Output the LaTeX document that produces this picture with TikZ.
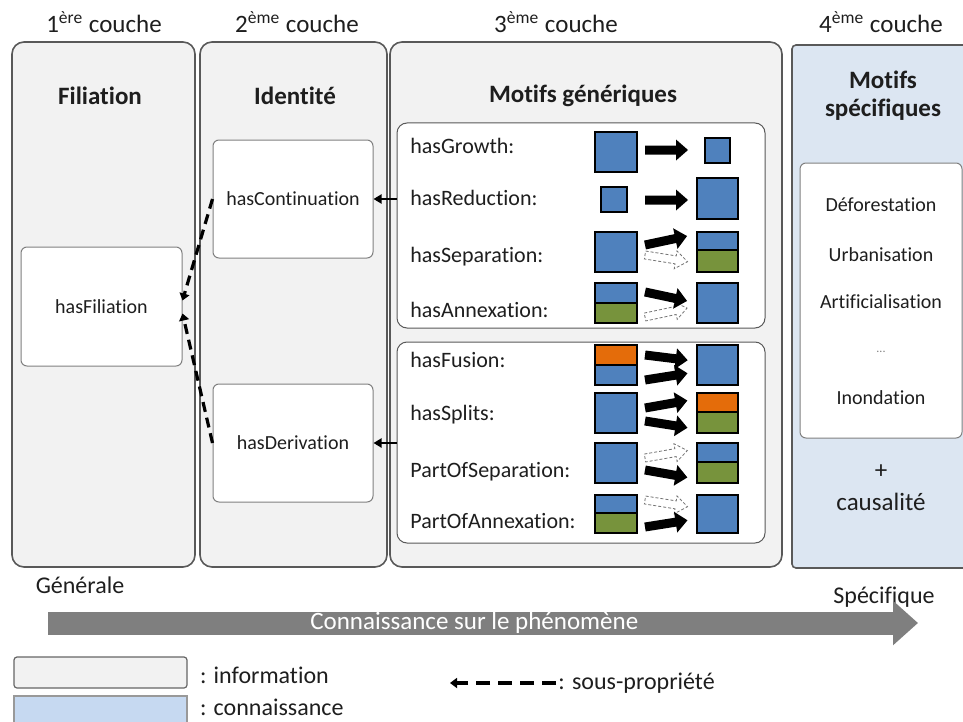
\documentclass[tikz,border=0pt]{standalone}
\usepackage{fontspec}
\setmainfont{Carlito}[Ligatures=NoCommon]
\usetikzlibrary{arrows.meta,fit}
\definecolor{gris}{RGB}{242,242,242}
\definecolor{bleuclair}{RGB}{220,230,242}
\definecolor{bleulegende}{RGB}{198,217,241}
\definecolor{bleu}{RGB}{79,129,189}
\definecolor{vert}{RGB}{119,147,60}
\definecolor{orangef}{RGB}{228,108,10}
\definecolor{grisfleche}{RGB}{127,127,127}
\definecolor{texte}{RGB}{30,30,30}

\tikzset{
  couche/.style={draw=black!65, line width=0.8pt, fill=gris, rounded corners=6pt, inner sep=0pt},
  boite/.style={draw=black!50, line width=0.5pt, fill=white, rounded corners=3pt, inner sep=0pt},
  boitetexte/.style={font=\fontsize{10}{12}\selectfont, text=texte},
  titre/.style={font=\fontsize{12.5}{13}\selectfont\bfseries, align=center, text=texte},
  entete/.style={font=\fontsize{12.5}{15}\selectfont, text=texte},
  motif/.style={anchor=west, inner sep=0pt, text height=1.5ex, text depth=.4ex, font=\fontsize{11}{13}\selectfont, text=texte},
  phenomene/.style={font=\fontsize{10}{12}\selectfont, text=texte},
  carre/.style={draw=black, line width=1.1pt},
  sousprop/.style={line width=1.6pt, dash pattern=on 5pt off 3pt, -{Triangle[length=3.5pt,width=5pt]}},
  lien/.style={line width=1pt, -{Triangle[length=4pt,width=4.5pt]}},
  connaissance/.style={draw=grisfleche, line width=11.5pt, -{Triangle[length=12.5pt,width=21.5pt]}},
  pics/fleche/.style={code={
    \fill[black] (0,-4.5) -- (31,-4.5) -- (31,-10.5) -- (43,0) -- (31,10.5) -- (31,4.5) -- (0,4.5) -- cycle;}},
  pics/flechevide/.style={code={
    \draw[black!55, fill=white, line width=0.4pt, dash pattern=on 1.5pt off 1pt] (0,-4) -- (31,-4) -- (31,-9) -- (43,0) -- (31,9) -- (31,4) -- (0,4) -- cycle;}}
}

\begin{document}
\begin{tikzpicture}[x=0.5pt,y=-0.5pt]
\useasboundingbox (0,0) rectangle (963,722);
\clip (0,0) rectangle (963,722);

% les quatre couches
\node[entete] at (104,22) {1\textsuperscript{ère} couche};
\node[entete] at (297,22) {2\textsuperscript{ème} couche};
\node[entete] at (556,22) {3\textsuperscript{ème} couche};
\node[entete] at (881,22) {4\textsuperscript{ème} couche};

\node[couche, fit={(12,42) (195,567)}] (c1) {};
\node[couche, fit={(200,42) (387,567)}] (c2) {};
\node[couche, fit={(390,42) (782,567)}] (c3) {};
\node[couche, fill=bleuclair, rounded corners=2pt, fit={(792,45) (990,568)}] (c4) {};

\node[titre] at (100,96) {Filiation};
\node[titre] at (295,96) {Identité};
\node[titre] at (583,96) {Motifs génériques};
\node[titre] at (883,96) {Motifs\\[1pt]spécifiques};

% filiation et identite
\node[boite, fit={(21,247) (182,366)}, label={[boitetexte]center:hasFiliation}] (hf) {};
\node[boite, fit={(213,140) (373,258)}, label={[boitetexte]center:hasContinuation}] (hc) {};
\node[boite, fit={(213,384) (373,502)}, label={[boitetexte]center:hasDerivation}] (hd) {};

\draw[sousprop] (hc.west) -- ([yshift=3pt]hf.east);
\draw[sousprop] (hd.west) -- ([yshift=-3.5pt]hf.east);

% motifs generiques
\node[boite, draw=black!65, rounded corners=5pt, fit={(397,123) (765,328)}] (motifsA) {};
\node[boite, draw=black!65, rounded corners=5pt, fit={(397,342) (765,543)}] (motifsB) {};

\draw[lien] (motifsA.west |- hc.east) -- (hc.east);
\draw[lien] (motifsB.west |- hd.east) -- (hd.east);

\node[motif] at (410,148) {hasGrowth:};
\node[motif] at (410,200) {hasReduction:};
\node[motif] at (410,257) {hasSeparation:};
\node[motif] at (410,312) {hasAnnexation:};
\node[motif] at (410,362) {hasFusion:};
\node[motif] at (410,415) {hasSplits:};
\node[motif] at (410,472) {PartOfSeparation:};
\node[motif] at (410,523) {PartOfAnnexation:};

% hasGrowth
\draw[carre, fill=bleu] (595,132) rectangle (637,172);
\pic at (645,150) {fleche};
\draw[carre, fill=bleu] (705,138) rectangle (730,163);
% hasReduction
\draw[carre, fill=bleu] (601,187) rectangle (627,212);
\pic at (645,200) {fleche};
\draw[carre, fill=bleu] (697,178) rectangle (738,219);
% hasSeparation
\draw[carre, fill=bleu] (595,232) rectangle (637,272);
\pic[rotate=-9] at (645,255) {flechevide};
\pic[rotate=12] at (645,245) {fleche};
\draw[carre, fill=bleu] (697,232) rectangle (738,250);
\draw[carre, fill=vert] (697,250) rectangle (738,272);
% hasAnnexation
\draw[carre, fill=bleu] (595,283) rectangle (637,303);
\draw[carre, fill=vert] (595,303) rectangle (637,323);
\pic[rotate=12] at (645,317) {flechevide};
\pic[rotate=-12] at (645,292) {fleche};
\draw[carre, fill=bleu] (697,283) rectangle (738,323);

% hasFusion
\draw[carre, fill=orangef] (595,345) rectangle (637,365);
\draw[carre, fill=bleu] (595,365) rectangle (637,385);
\pic[rotate=-7] at (645,355) {fleche};
\pic[rotate=9] at (645,380) {fleche};
\draw[carre, fill=bleu] (697,345) rectangle (738,385);
% hasSplits
\draw[carre, fill=bleu] (595,393) rectangle (637,433);
\pic[rotate=10] at (645,408) {fleche};
\pic[rotate=-9] at (645,421) {fleche};
\draw[carre, fill=orangef] (697,393) rectangle (738,412);
\draw[carre, fill=vert] (697,412) rectangle (738,433);
% PartOfSeparation
\draw[carre, fill=bleu] (595,443) rectangle (637,483);
\pic[rotate=10] at (645,458) {flechevide};
\pic[rotate=-10] at (645,470) {fleche};
\draw[carre, fill=bleu] (697,443) rectangle (738,462);
\draw[carre, fill=vert] (697,462) rectangle (738,483);
% PartOfAnnexation
\draw[carre, fill=bleu] (595,495) rectangle (637,513);
\draw[carre, fill=vert] (595,513) rectangle (637,533);
\pic[rotate=-9] at (645,500) {flechevide};
\pic[rotate=9] at (645,527) {fleche};
\draw[carre, fill=bleu] (697,495) rectangle (738,533);

% motifs specifiques
\node[boite, fit={(800,163) (962,438)}] (phen) {};
\node[phenomene] at (881,205) {Déforestation};
\node[phenomene] at (881,255) {Urbanisation};
\node[phenomene] at (881,302) {Artificialisation};
\node[phenomene, font=\fontsize{6}{7}\selectfont, text=black!50] at (881,352) {...};
\node[phenomene] at (881,398) {Inondation};
\node[entete] at (881,472) {+};
\node[entete] at (881,502) {causalité};

% axe des connaissances
\node[entete, font=\fontsize{12}{14}\selectfont] at (80,585) {Générale};
\node[entete, font=\fontsize{12}{14}\selectfont] at (884,597) {Spécifique};
\coordinate (gen) at (48,623);
\coordinate (spe) at (918,623);
\draw[connaissance] (gen) -- (spe) node[pos=0.49, text=white, font=\fontsize{12.5}{14}\selectfont] {Connaissance sur le phénomène};

% legende
\node[draw=black!60, line width=0.6pt, fill=gris, rounded corners=1.5pt, inner sep=0pt, fit={(14,657) (187,688)}] (leginfo) {};
\node[draw=black!40, line width=0.6pt, fill=bleulegende, inner sep=0pt, fit={(14,696) (187,735)}] (legconn) {};
\node[anchor=west, font=\fontsize{12}{14}\selectfont, text=texte] at (193,675) {: information};
\node[anchor=west, font=\fontsize{12}{14}\selectfont, text=texte] at (193,707) {: connaissance};
\coordinate (legA) at (556,683);
\coordinate (legB) at (450,683);
\draw[sousprop, line width=2pt, dash pattern=on 7pt off 4pt] (legA) -- (legB);
\node[anchor=west, inner sep=1pt, font=\fontsize{12}{14}\selectfont, text=texte] at (556,683) {: sous-propriété};
\end{tikzpicture}
\end{document}
